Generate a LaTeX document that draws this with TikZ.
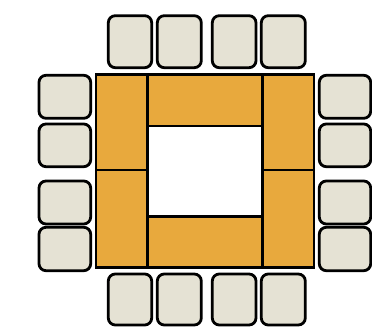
\documentclass[tikz,border=0pt]{standalone}
\definecolor{tableorange}{HTML}{E8A93D}
\definecolor{chairfill}{HTML}{E5E2D4}
\tikzset{
  tablepart/.style={fill=tableorange, draw=black, line width=2.8pt, line join=miter},
  chair/.style={fill=chairfill, draw=black, line width=2.8pt, rounded corners=7pt}
}
\begin{document}
\begin{tikzpicture}[x=1pt,y=-1pt]
\useasboundingbox (0,0) rectangle (372,328);
% table pieces
\draw[tablepart] (96,74.7) rectangle (147.7,170);
\draw[tablepart] (96,170) rectangle (147.7,267.3);
\draw[tablepart] (262.7,74.7) rectangle (314,170);
\draw[tablepart] (262.7,170) rectangle (314,267.3);
\draw[tablepart] (147.7,74.7) rectangle (262.7,126);
\draw[tablepart] (147.7,216.7) rectangle (262.7,267.3);
% top chairs
\foreach \a/\b in {108.3/151.7,157.3/201.3,212.3/256,261.3/305.3}{
  \draw[chair] (\a,15.7) rectangle (\b,67.7);
  \draw[chair] (\a,274) rectangle (\b,325);
}
% side chairs
\foreach \a/\b in {75.3/118.3,124/166.7,181/224,227.3/270.7}{
  \draw[chair] (39,\a) rectangle (90.7,\b);
  \draw[chair] (319.3,\a) rectangle (370.7,\b);
}
\end{tikzpicture}
\end{document}
